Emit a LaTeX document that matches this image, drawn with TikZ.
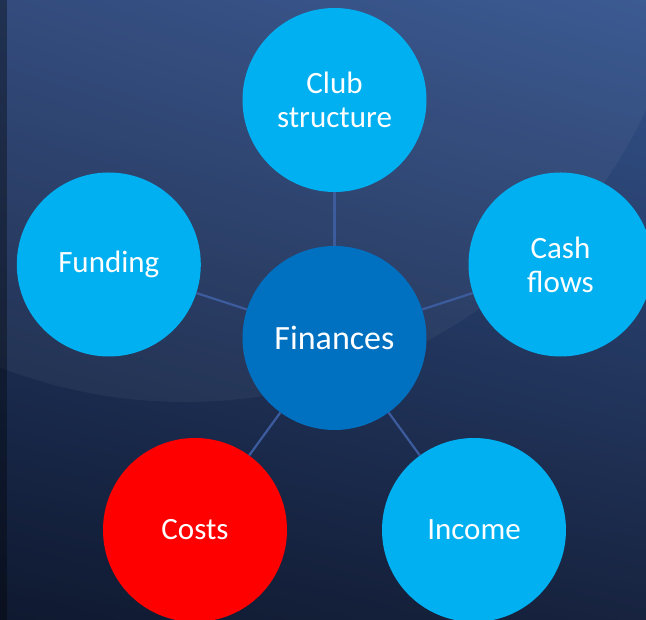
\documentclass[tikz,border=0pt]{standalone}
\usepackage{fontspec}
\setmainfont{Carlito}
\usetikzlibrary{shadings}
\definecolor{cyanc}{HTML}{00B0F0}
\definecolor{finc}{HTML}{0070C0}
\definecolor{costc}{HTML}{FF0000}
\definecolor{linec}{HTML}{3D5C9E}
\definecolor{bgul}{HTML}{2A4478}
\definecolor{bgur}{HTML}{34548E}
\definecolor{bgll}{HTML}{0F1930}
\definecolor{bglr}{HTML}{17233F}
\tikzset{
  bubble/.style={circle, minimum size=184pt, inner sep=0pt, align=center,
    text=white, font=\fontsize{31pt}{34pt}\selectfont},
  link/.style={draw=linec, line width=2.2pt}
}
\begin{document}
\begin{tikzpicture}[x=1pt,y=1pt]
\useasboundingbox (0,0) rectangle (646,620);
\clip (0,0) rectangle (646,620);
% background
\shade[upper left=bgul, upper right=bgur, lower left=bgll, lower right=bglr] (0,0) rectangle (646,620);
\begin{scope}
  \clip (0,0) rectangle (646,620);
  \fill[white, opacity=0.045] (185,728) circle (510);
\end{scope}
\fill[black, opacity=0.35] (0,0) rectangle (7,620);
% nodes
\node[bubble, fill=finc, font=\fontsize{34pt}{37pt}\selectfont] (fin) at (334.5,282) {Finances};
\node[bubble, fill=cyanc] (club) at (334.5,520) {Club\\structure};
\node[bubble, fill=cyanc] (fund) at (108.8,355.5) {Funding};
\node[bubble, fill=cyanc] (cash) at (560.5,355.5) {Cash\\flows};
\node[bubble, fill=costc] (cost) at (195,90) {Costs};
\node[bubble, fill=cyanc] (inc) at (474,90) {Income};
% connectors
\draw[link] (fin) -- (club);
\draw[link] (fin) -- (fund);
\draw[link] (fin) -- (cash);
\draw[link] (fin) -- (cost);
\draw[link] (fin) -- (inc);
\end{tikzpicture}
\end{document}
